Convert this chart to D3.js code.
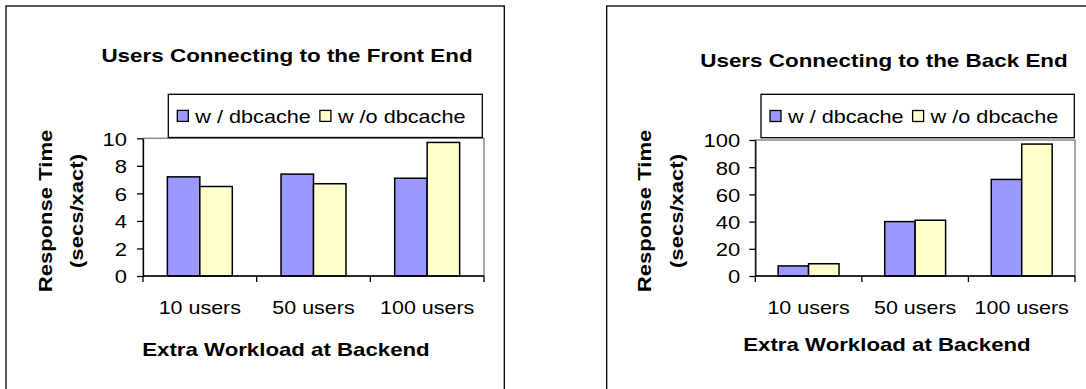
<!DOCTYPE html>
<html><head><meta charset="utf-8">
<script src="https://cdn.jsdelivr.net/npm/d3@7"></script>
<style>
body{margin:0;background:#fff}
svg{display:block}
text{font-family:Arial,"Liberation Sans",sans-serif;fill:#000}
</style>
</head><body><svg id="c" width="1086" height="389"></svg>
<script>
// ---- data ----
const categories = ["10 users", "50 users", "100 users"];
const seriesNames = ["w / dbcache", "w /o dbcache"];
const frontWith = [7.2, 7.4, 7.1];
const frontWithout = [6.5, 6.7, 9.7];
const backWith = [7.4, 40, 71];
const backWithout = [9, 41, 97];
const frontTicks = [0, 2, 4, 6, 8, 10];
const backTicks = [0, 20, 40, 60, 80, 100];
const chartTitles = ["Users Connecting to the Front End", "Users Connecting to the Back End"];
const xAxisTitle = "Extra Workload at Backend";
const yAxisTitle = ["Response Time", "(secs/xact)"];
const seriesColors = ["#9999FF", "#FFFFCC"];

// ---- layout ----
const FS = 19;
const panels = [
  { series: [frontWith, frontWithout], ticks: frontTicks, yMax: 10, title: chartTitles[0],
    frame: { x: 6, y: 6, r: 504.3 },
    titlePos: { x: 287, y: 61.5 },
    legend: { x0: 168.3, y0: 94.3, x1: 482.3, y1: 137.5 },
    plot: { l: 143, r: 484, t: 138.3, b: 276 },
    catY: 314, xTitlePos: { x: 286, y: 355.5 },
    yTitlePos: { x1: 51.5, x2: 83, y: 211 } },
  { series: [backWith, backWithout], ticks: backTicks, yMax: 100, title: chartTitles[1],
    frame: { x: 606.7, y: 6, r: 1200 },
    titlePos: { x: 884, y: 66.7 },
    legend: { x0: 761, y0: 94.3, x1: 1074.3, y1: 137.7 },
    plot: { l: 755.3, r: 1075, t: 140, b: 276 },
    catY: 314, xTitlePos: { x: 887, y: 351 },
    yTitlePos: { x1: 651, x2: 683, y: 211 } }
];

const svg = d3.select("#c");
svg.append("rect").attr("width", 1086).attr("height", 389).attr("fill", "#fff");

function stretch(sel, f) {
  sel.each(function () {
    const w = this.getComputedTextLength();
    d3.select(this).attr("textLength", w * f).attr("lengthAdjust", "spacingAndGlyphs");
  });
  return sel;
}

panels.forEach(p => {
  const g = svg.append("g");
  // frame
  g.append("rect").attr("x", p.frame.x).attr("y", p.frame.y)
    .attr("width", p.frame.r - p.frame.x).attr("height", 500)
    .attr("fill", "none").attr("stroke", "#000").attr("stroke-width", 1.3);

  // title
  stretch(g.append("text").attr("x", p.titlePos.x).attr("y", p.titlePos.y)
    .attr("text-anchor", "middle").attr("font-size", FS).attr("font-weight", "bold")
    .text(p.title), 1.18);

  // scales
  const x0 = d3.scaleBand().domain(categories).range([p.plot.l, p.plot.r]).padding(0);
  const x1 = d3.scaleBand().domain(seriesNames).range([0, x0.bandwidth()])
    .paddingInner(0).paddingOuter(0.75);
  const y = d3.scaleLinear().domain([0, p.yMax]).range([p.plot.b, p.plot.t]);

  // plot area border (gray)
  g.append("rect").attr("x", p.plot.l).attr("y", p.plot.t)
    .attr("width", p.plot.r - p.plot.l).attr("height", p.plot.b - p.plot.t)
    .attr("fill", "#fff").attr("stroke", "#8c8c8c").attr("stroke-width", 1.5);

  // bars
  seriesNames.forEach((s, si) => {
    g.selectAll(null).data(categories).enter().append("rect")
      .attr("x", (c) => x0(c) + x1(s))
      .attr("y", (c, i) => y(p.series[si][i]))
      .attr("width", x1.bandwidth())
      .attr("height", (c, i) => y(0) - y(p.series[si][i]))
      .attr("fill", seriesColors[si]).attr("stroke", "#000").attr("stroke-width", 1.5);
  });

  // y axis
  const ya = g.append("g").attr("transform", `translate(${p.plot.l},0)`)
    .call(d3.axisLeft(y).tickValues(p.ticks).tickSize(6).tickPadding(p.yMax === 10 ? 10 : 9).tickSizeOuter(0));
  ya.select(".domain").attr("stroke", "#000").attr("stroke-width", 1.3);
  ya.selectAll(".tick line").attr("stroke", "#000").attr("stroke-width", 1.3);
  ya.selectAll(".tick text").attr("font-size", FS).attr("font-family", 'Arial,"Liberation Sans",sans-serif').attr("fill", "#000").attr("dy", "0.36em");
  stretch(ya.selectAll(".tick text"), 1.16);

  // x axis line and boundary ticks
  g.append("line").attr("x1", p.plot.l).attr("x2", p.plot.r)
    .attr("y1", y(0)).attr("y2", y(0)).attr("stroke", "#000").attr("stroke-width", 1.3);
  const bounds = categories.map(c => x0(c)).concat([x0.range()[1]]);
  g.selectAll(null).data(bounds).enter().append("line")
    .attr("x1", d => d).attr("x2", d => d)
    .attr("y1", y(0)).attr("y2", y(0) + 6)
    .attr("stroke", "#000").attr("stroke-width", 1.3);

  // category labels
  stretch(g.selectAll(null).data(categories).enter().append("text")
    .attr("x", c => x0(c) + x0.bandwidth() / 2).attr("y", p.catY)
    .attr("text-anchor", "middle").attr("font-size", FS).text(c => c), 1.13);

  // x axis title
  stretch(g.append("text").attr("x", p.xTitlePos.x).attr("y", p.xTitlePos.y)
    .attr("text-anchor", "middle").attr("font-size", FS).attr("font-weight", "bold")
    .text(xAxisTitle), 1.17);

  // y axis title
  [p.yTitlePos.x1, p.yTitlePos.x2].forEach((xx, i) => {
    stretch(g.append("text").attr("transform", `translate(${xx},${p.yTitlePos.y}) rotate(-90)`)
      .attr("text-anchor", "middle").attr("font-size", FS).attr("font-weight", "bold")
      .text(yAxisTitle[i]), 1.16);
  });

  // legend
  const L = p.legend;
  const lg = g.append("g");
  lg.append("rect").attr("x", L.x0).attr("y", L.y0).attr("width", L.x1 - L.x0).attr("height", L.y1 - L.y0)
    .attr("fill", "#fff").attr("stroke", "#000").attr("stroke-width", 1.3);
  let cx = L.x0 + 9;
  const midY = (L.y0 + L.y1) / 2;
  seriesNames.forEach((s, si) => {
    lg.append("rect").attr("x", cx).attr("y", midY - 5.5).attr("width", 11).attr("height", 11)
      .attr("fill", seriesColors[si]).attr("stroke", "#000").attr("stroke-width", 1.3);
    cx += 11 + 7;
    const t = lg.append("text").attr("x", cx).attr("y", midY + 7).attr("font-size", FS).text(s);
    stretch(t, 1.14);
    cx += +t.attr("textLength") + 9;
  });
});
</script>
</body></html>
